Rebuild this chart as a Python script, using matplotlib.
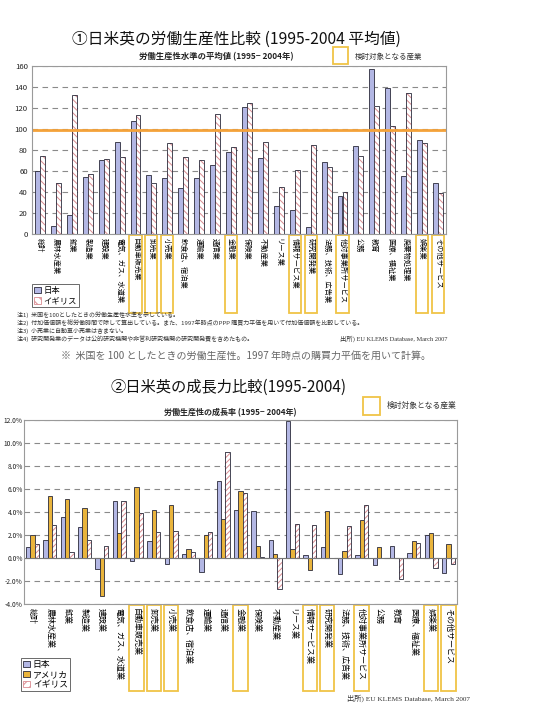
import matplotlib
matplotlib.use('Agg')
import matplotlib.pyplot as plt
import numpy as np
from matplotlib.patches import Rectangle, Patch
import matplotlib.transforms as mtransforms

plt.rcParams['font.family'] = ['Noto Sans CJK JP', 'DejaVu Sans']
plt.rcParams['hatch.linewidth'] = 0.7

# ---------------- data ----------------
cats1 = ['総計', '農林水産業', '鉱業', '製造業', '建設業', '電気、ガス、水道業',
         '自動車販売業', '卸売業', '小売業', '飲食店、宿泊業', '運輸業', '通信業',
         '金融業', '保険業', '不動産業', 'リース業', '情報サービス業', '研究開発業',
         '法務、技術、広告業', '他対事業所サービス', '公務', '教育', '医療、福祉業',
         '廃棄物処理業', '娯楽業', 'その他サービス']
jp1 = [60, 8, 18, 54, 70, 88, 108, 56, 53, 44, 53, 66, 78, 121, 72, 27, 23, 7,
       69, 36, 84, 157, 139, 55, 90, 49]
uk1 = [74, 49, 132, 57, 71, 73, 113, 49, 87, 73, 70, 114, 83, 125, 88, 45, 61, 85,
       64, 40, 74, 122, 103, 134, 87, 39]
us_level = 99

cats2 = ['総計', '農林水産業', '鉱業', '製造業', '建設業', '電気、ガス、水道業',
         '自動車販売業', '卸売業', '小売業', '飲食店、宿泊業', '運輸業', '通信業',
         '金融業', '保険業', '不動産業', 'リース業', '情報サービス業', '研究開発業',
         '法務、技術、広告業', '他対事業所サービス', '公務', '教育', '医療、福祉業',
         '娯楽業', 'その他サービス']
jp2 = [1.0, 1.6, 3.6, 2.7, -0.95, 5.0, -0.2, 1.5, -0.5, 0.37, -1.2, 6.7, 4.2, 4.1,
       1.6, 11.9, 0.3, 0.95, -1.35, 0.3, -0.57, 1.1, 0.43, 2.0, -1.3]
us2 = [2.0, 5.4, 5.1, 4.4, -3.3, 2.2, 6.2, 4.2, 4.6, 0.8, 2.0, 3.4, 5.8, 1.1,
       0.4, 0.8, -1.0, 4.1, 0.6, 3.3, 1.0, 0.05, 1.5, 2.15, 1.2]
uk2 = [1.2, 2.9, 0.5, 1.6, 1.1, 5.0, 3.9, 2.3, 2.4, 0.5, 2.3, 9.2, 5.7, 0.1,
       -2.7, 3.0, 2.9, 0.0, 2.8, 4.6, 0.05, -1.8, 1.3, -0.86, -0.5]

highlight = ['自動車販売業', '卸売業', '小売業', '金融業', '情報サービス業',
             '研究開発業', '他対事業所サービス', '娯楽業', 'その他サービス']

yticks1 = list(range(0, 161, 20))
yticks2 = [-4, -2, 0, 2, 4, 6, 8, 10, 12]

# ---------------- styles ----------------
C_JP = '#b3b7e4'
C_US = '#e9b43c'
C_UKH = '#d98a90'
C_EDGE = '#2a2a3a'
C_HL = '#f0c446'
C_LINE = '#f4a23a'
C_GRID = '#8a8a8a'

W, H = 539, 709
fig = plt.figure(figsize=(W / 100, H / 100), dpi=100)


def fx(x):
    return x / W


def fy(y):
    return 1 - y / H


def style_axes(ax, ylabelsize=5.6, ypad=3):
    for s in ax.spines.values():
        s.set_color('#9a9a9a')
        s.set_linewidth(0.8)
    ax.set_axisbelow(True)
    ax.yaxis.grid(True, linestyle=(0, (5, 4)), color=C_GRID, lw=0.8)
    ax.tick_params(axis='x', length=0, pad=3)
    ax.tick_params(axis='y', length=0, pad=ypad, labelsize=ylabelsize, colors='#222')


# ---------------- chart 1 ----------------
ax1 = fig.add_axes([fx(32), fy(234), fx(446) - fx(32), fy(66) - fy(234)])
x1 = np.arange(len(cats1))
w1 = 0.31
ax1.bar(x1 - w1 / 2, jp1, w1, color=C_JP, edgecolor=C_EDGE, lw=0.6)
ax1.bar(x1 + w1 / 2, uk1, w1, color='white', edgecolor=C_UKH, hatch='\\\\\\\\\\', lw=0)
ax1.bar(x1 + w1 / 2, uk1, w1, fill=False, edgecolor=C_EDGE, lw=0.6)
ax1.axhline(us_level, color=C_LINE, lw=2)
ax1.set_xlim(-0.5, len(cats1) - 0.5)
ax1.set_ylim(0, 160)
ax1.set_yticks(yticks1)
ax1.set_xticks(x1)
ax1.set_xticklabels(cats1, rotation=270, fontsize=5.2, va='top', ha='center')
style_axes(ax1)

tr1 = mtransforms.blended_transform_factory(ax1.transData, ax1.transAxes)
for i, c in enumerate(cats1):
    if c in highlight:
        ax1.add_patch(Rectangle((i - 0.38, -0.47), 0.76, 0.462, transform=tr1,
                                fill=False, edgecolor=C_HL, lw=1.3, clip_on=False))

fig.text(fx(236), fy(39), '①日米英の労働生産性比較 (1995-2004 平均値)',
         fontsize=11.3, ha='center', va='center', color='#111')
fig.text(fx(216), fy(57), '労働生産性水準の平均値 (1995− 2004年)',
         fontsize=6.0, ha='center', va='center', fontweight='bold', color='#222')
fig.patches.append(Rectangle((fx(333), fy(64)), fx(15), 17 / H, transform=fig.transFigure,
                             fill=False, edgecolor=C_HL, lw=1.3))
fig.text(fx(355), fy(57), '検討対象となる産業', fontsize=5.4, ha='left', va='center', color='#333')

leg1 = fig.legend([Patch(facecolor=C_JP, edgecolor=C_EDGE, lw=0.6),
                   Patch(facecolor='white', edgecolor=C_UKH, hatch='\\\\\\\\', lw=0.6)],
                  ['日本', 'イギリス'], loc='upper left', bbox_to_anchor=(fx(32), fy(284)),
                  fontsize=6, frameon=True, fancybox=False, edgecolor='#444',
                  handlelength=0.8, handleheight=0.8, borderpad=0.25, labelspacing=0.15,
                  handletextpad=0.3, borderaxespad=0)
leg1.get_frame().set_linewidth(0.7)

notes = ['注1)  米国を100としたときの労働生産性水準を示している。',
         '注2)  付加価値額を総労働時間で除して算出している。また、1997年時点のPPP 購買力平価を用いて付加価値額を比較している。',
         '注3)  小売業に自動車小売業は含まない。',
         '注4)  研究開発業のデータは公的研究機関や非営利研究機関の研究開発費を含めたもの。']
for k, t in enumerate(notes):
    fig.text(fx(17), fy(315 + 8 * k), t, fontsize=4.3, ha='left', va='center', color='#333')
fig.text(fx(340), fy(339), '出所) EU KLEMS Database, March 2007', fontsize=4.6,
         ha='left', va='center', color='#333', family=['Liberation Serif', 'Noto Sans CJK JP'])
fig.text(fx(246), fy(356), '※  米国を 100 としたときの労働生産性。1997 年時点の購買力平価を用いて計算。',
         fontsize=7.2, ha='center', va='center', color='#666')

# ---------------- chart 2 ----------------
ax2 = fig.add_axes([fx(24), fy(604.3), fx(457) - fx(24), fy(420) - fy(604.3)])
x2 = np.arange(len(cats2))
w2 = 0.25
ax2.bar(x2 - w2, jp2, w2, color=C_JP, edgecolor=C_EDGE, lw=0.6)
ax2.bar(x2, us2, w2, color=C_US, edgecolor=C_EDGE, lw=0.6)
ax2.bar(x2 + w2, uk2, w2, color='white', edgecolor=C_UKH, hatch='//////', lw=0)
ax2.bar(x2 + w2, uk2, w2, fill=False, edgecolor=C_EDGE, lw=0.6)
ax2.axhline(0, color='#777', lw=0.8)
ax2.set_xlim(-0.5, len(cats2) - 0.5)
ax2.set_ylim(-4, 12)
ax2.set_yticks(yticks2)
ax2.set_yticklabels([f'{v:.1f}%' for v in yticks2])
ax2.set_xticks(x2)
ax2.set_xticklabels(cats2, rotation=270, fontsize=5.8, va='top', ha='center')
style_axes(ax2, ylabelsize=4.8, ypad=0.8)

tr2 = mtransforms.blended_transform_factory(ax2.transData, ax2.transAxes)
for i, c in enumerate(cats2):
    if c in highlight:
        ax2.add_patch(Rectangle((i - 0.42, -0.469), 0.84, 0.466, transform=tr2,
                                fill=False, edgecolor=C_HL, lw=1.3, clip_on=False))

fig.text(fx(228), fy(387), '②日米英の成長力比較(1995-2004)',
         fontsize=11, ha='center', va='center', color='#111')
fig.text(fx(230), fy(413), '労働生産性の成長率 (1995− 2004年)',
         fontsize=5.8, ha='center', va='center', fontweight='bold', color='#222')
fig.patches.append(Rectangle((fx(363), fy(415)), fx(17), 18 / H, transform=fig.transFigure,
                             fill=False, edgecolor=C_HL, lw=1.3))
fig.text(fx(387), fy(406), '検討対象となる産業', fontsize=5.6, ha='left', va='center', color='#333')

leg2 = fig.legend([Patch(facecolor=C_JP, edgecolor=C_EDGE, lw=0.6),
                   Patch(facecolor=C_US, edgecolor=C_EDGE, lw=0.6),
                   Patch(facecolor='white', edgecolor=C_UKH, hatch='////', lw=0.6)],
                  ['日本', 'アメリカ', 'イギリス'], loc='upper left',
                  bbox_to_anchor=(fx(21), fy(658)),
                  fontsize=6.3, frameon=True, fancybox=False, edgecolor='#444',
                  handlelength=0.8, handleheight=0.8, borderpad=0.25, labelspacing=0.1,
                  handletextpad=0.3, borderaxespad=0)
leg2.get_frame().set_linewidth(0.7)

fig.text(fx(347), fy(698), '出所) EU KLEMS Database, March 2007', fontsize=5.2,
         ha='left', va='center', color='#333', family=['Liberation Serif', 'Noto Sans CJK JP'])

fig.savefig('out.png', dpi=100, facecolor='white')
